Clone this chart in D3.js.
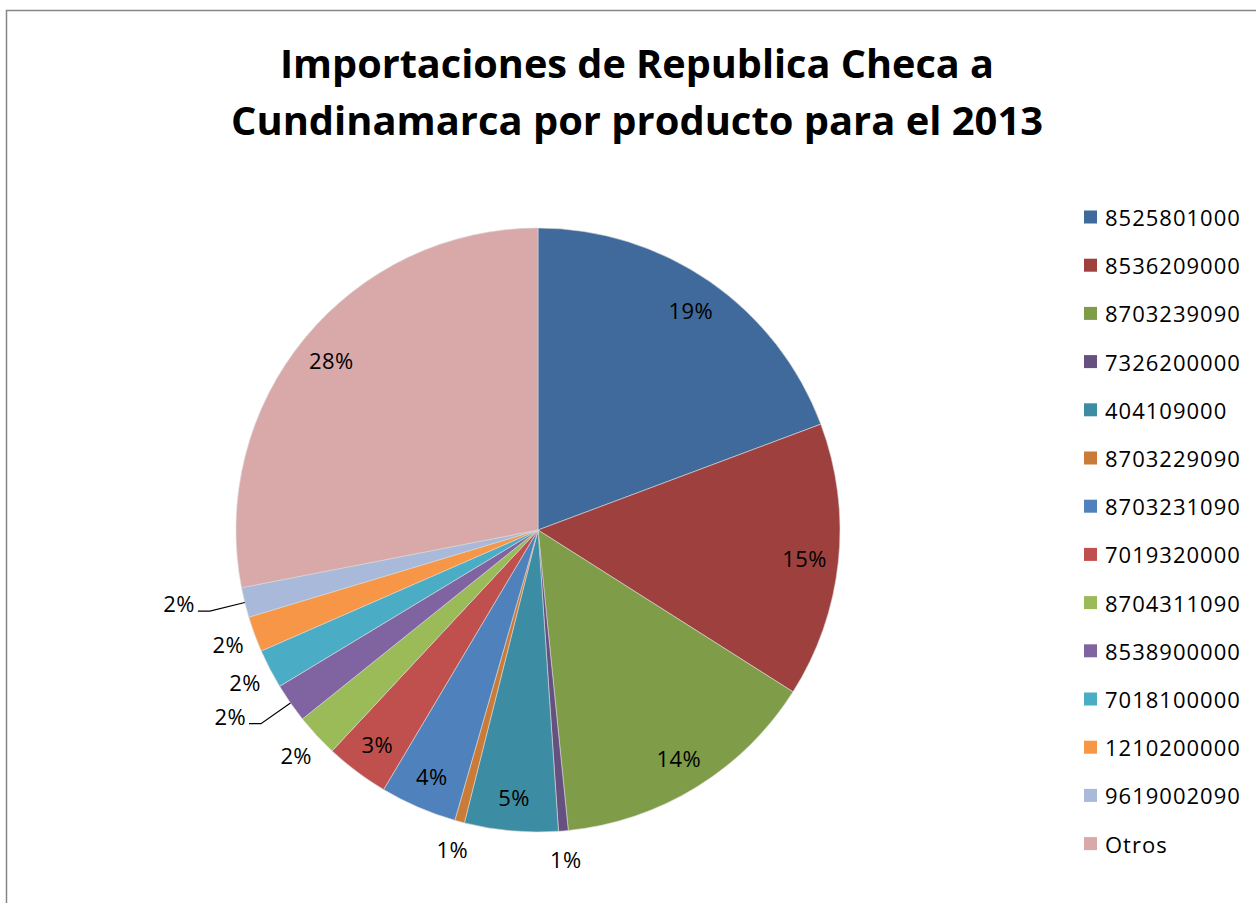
<!DOCTYPE html>
<html>
<head>
<meta charset="utf-8">
<script src="https://cdn.jsdelivr.net/npm/d3@7"></script>
<style>
  body { margin: 0; background: #fff; }
  svg { display: block; }
</style>
</head>
<body>
<div id="chart"></div>
<script>
// data (shares in %)
const productos = ["8525801000", "8536209000", "8703239090", "7326200000", "404109000",
  "8703229090", "8703231090", "7019320000", "8704311090", "8538900000",
  "7018100000", "1210200000", "9619002090", "Otros"];
const participacion = [19.3, 14.7, 14.4, 0.52, 5.0, 0.52, 4.1, 3.4, 2.3, 2.1, 2.1, 1.9, 1.6, 28.06];
const colores = ["#3F6A9B", "#9D403E", "#7F9C48", "#66507F", "#3C8DA3", "#CB7B38",
  "#4F81BD", "#C0504D", "#9BBB59", "#8064A2", "#4BACC6", "#F79646", "#A9B9D9", "#D9A9A9"];
const titulo = ["Importaciones de Republica Checa a", "Cundinamarca por producto para el 2013"];

const width = 1256;
const height = 903;
const cx = 538;
const cy = 530;
const radius = 302;

const svg = d3.select("#chart").append("svg")
  .attr("width", width)
  .attr("height", height)
  .attr("viewBox", [0, 0, width, height]);

// chart frame
svg.append("rect")
  .attr("x", 6.5).attr("y", 10.5)
  .attr("width", width + 20).attr("height", height + 20)
  .attr("fill", "none")
  .attr("stroke", "#868686")
  .attr("stroke-width", 1.5);

// title
const titleWidths = [714, 812];
svg.append("g").selectAll("text")
  .data(titulo)
  .join("text")
  .attr("x", 637)
  .attr("y", (d, i) => 78 + i * 57)
  .attr("text-anchor", "middle")
  .attr("font-family", "'Open Sans', sans-serif")
  .attr("font-weight", "bold")
  .attr("font-size", 40)
  .attr("textLength", (d, i) => titleWidths[i])
  .attr("lengthAdjust", "spacingAndGlyphs")
  .attr("fill", "#000")
  .text(d => d);

const data = productos.map((p, i) => ({ producto: p, valor: participacion[i], color: colores[i] }));
const total = d3.sum(participacion);

const pie = d3.pie().sort(null).value(d => d.valor);
const arcs = pie(data);

const arc = d3.arc().innerRadius(0).outerRadius(radius);
const inLabel = d3.arc().innerRadius(268).outerRadius(268);
const outLabel = d3.arc().innerRadius(330).outerRadius(330);
const elbow = d3.arc().innerRadius(radius + 36).outerRadius(radius + 36);
const edge = d3.arc().innerRadius(radius).outerRadius(radius);

const g = svg.append("g").attr("transform", `translate(${cx},${cy})`);

g.selectAll("path")
  .data(arcs)
  .join("path")
  .attr("d", arc)
  .attr("fill", d => d.data.color)
  .attr("stroke", "#d8d8d8")
  .attr("stroke-width", 0.6);

// labels that Excel pushed aside with a leader line
const conLinea = ["8538900000", "9619002090"];
const pct = d => Math.round(d.data.valor / total * 100) + "%";

const labels = g.append("g")
  .attr("font-family", "'Open Sans', sans-serif")
  .attr("font-size", 22)
  .attr("letter-spacing", 0.4)
  .attr("fill", "#000");

arcs.forEach(d => {
  const share = d.data.valor / total * 100;
  if (conLinea.includes(d.data.producto)) {
    const a = edge.centroid(d);
    const b = elbow.centroid(d);
    g.append("path")
      .attr("d", d3.line()([a, b, [b[0] - 12, b[1]]]))
      .attr("fill", "none")
      .attr("stroke", "#000")
      .attr("stroke-width", 1.2);
    labels.append("text")
      .attr("x", b[0] - 15)
      .attr("y", b[1] + 1)
      .attr("text-anchor", "end")
      .text(pct(d));
  } else {
    const p = share >= 3 ? inLabel.centroid(d) : outLabel.centroid(d);
    labels.append("text")
      .attr("x", p[0])
      .attr("y", p[1])
      .attr("text-anchor", "middle")
      .attr("dominant-baseline", "central")
      .text(pct(d));
  }
});

// legend
const legend = svg.append("g")
  .attr("transform", "translate(1084,217)");

const rows = legend.selectAll("g")
  .data(data)
  .join("g")
  .attr("transform", (d, i) => `translate(0,${i * 48.2})`);

rows.append("rect")
  .attr("x", 0).attr("y", -6.5)
  .attr("width", 13).attr("height", 13)
  .attr("fill", d => d.color);

rows.append("text")
  .attr("x", 21)
  .attr("y", 0)
  .attr("dominant-baseline", "central")
  .attr("font-family", "'Open Sans', sans-serif")
  .attr("font-size", 22)
  .attr("letter-spacing", 1)
  .attr("fill", "#000")
  .text(d => d.producto);
</script>
</body>
</html>
